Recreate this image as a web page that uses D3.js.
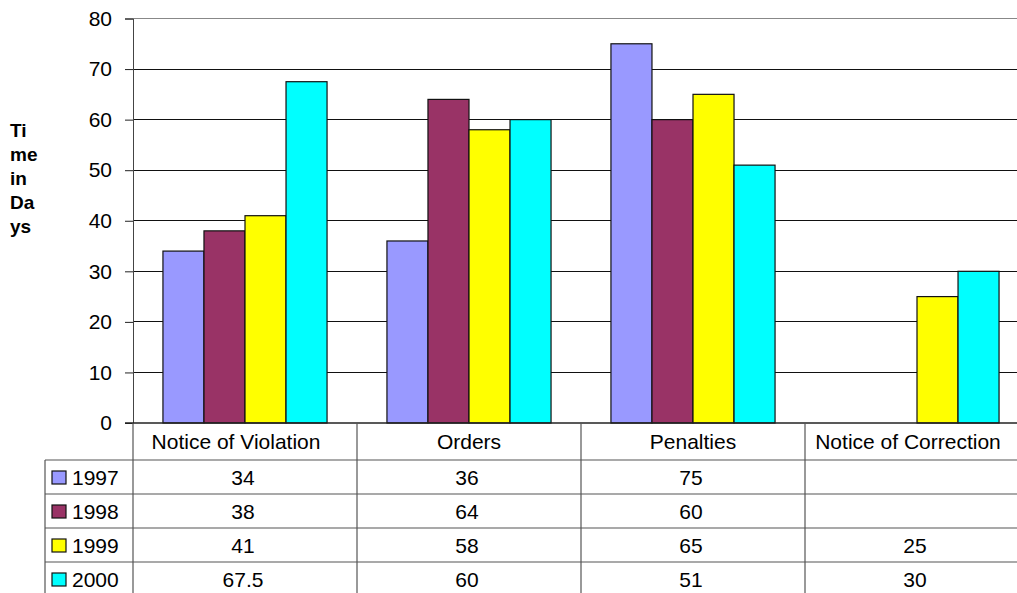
<!DOCTYPE html>
<html><head><meta charset="utf-8">
<script src="https://cdn.jsdelivr.net/npm/d3@7"></script>
<style>
html,body{margin:0;padding:0;background:#fff;}
svg{display:block;font-family:"Liberation Sans",Arial,sans-serif;}
</style></head>
<body>
<svg id="c" width="1017" height="593"></svg>
<script>
const categories = ["Notice of Violation","Orders","Penalties","Notice of Correction"];
const years = ["1997","1998","1999","2000"];
const v1997 = [34, 36, 75, null];
const v1998 = [38, 64, 60, null];
const v1999 = [41, 58, 65, 25];
const v2000 = [67.5, 60, 51, 30];
const colors = ["#9999FF","#993366","#FFFF00","#00FFFF"];
const yTicks = [0,10,20,30,40,50,60,70,80];
const yLabel = ["Ti","me","in","Da","ys"];

(function(){
const series = [v1997, v1998, v1999, v2000];
const svg = d3.select("#c");
const W = 1017;
const pLeft = 133, pRight = 1029, pTop = 18.5, pBottom = 423;
const FS = 21;
const x = d3.scaleBand().domain(categories).range([pLeft, pRight]).paddingInner(0).paddingOuter(0);
const xs = d3.scaleBand().domain(years).range([0, x.bandwidth()]).paddingInner(0).paddingOuter(0.73);
const y = d3.scaleLinear().domain([0,80]).range([pBottom, pTop]);
// centre of the visible part of a table column
const colCenter = c => (x(c) + Math.min(x(c) + x.bandwidth(), W + 12)) / 2;

// gridlines
svg.append("g").selectAll("line").data(yTicks.filter(d=>d>0)).join("line")
  .attr("x1", pLeft).attr("x2", pRight)
  .attr("y1", d=>y(d)).attr("y2", d=>y(d))
  .attr("stroke", d=> d===80 ? "#888" : "#111").attr("stroke-width",1)
  .attr("shape-rendering","crispEdges");

// y axis
const ya = d3.axisLeft(y).tickValues(yTicks).tickSize(8).tickPadding(13);
const yg = svg.append("g").attr("transform",`translate(${pLeft},0)`).call(ya);
yg.select(".domain").attr("stroke","#444");
yg.selectAll(".tick line").attr("stroke","#222");
yg.selectAll("text").attr("font-size",FS).attr("fill","#000")
  .attr("font-family","'Liberation Sans',Arial,sans-serif");

// bars
series.forEach((vals, si) => {
  svg.append("g").selectAll("rect").data(categories.map((c,i)=>({c, v: vals[i]})).filter(d=>d.v!=null))
    .join("rect")
    .attr("x", d=> x(d.c) + xs(years[si]))
    .attr("width", xs.bandwidth())
    .attr("y", d=> y(d.v))
    .attr("height", d=> y(0)-y(d.v))
    .attr("fill", colors[si]).attr("stroke","#111").attr("stroke-width",1.2);
});

// table
const rowTop = 460, rowH = 34, legLeft = 45;
const tg = svg.append("g");
const lineCol = "#555";
tg.append("line").attr("x1",125).attr("x2",pRight).attr("y1",pBottom).attr("y2",pBottom).attr("stroke","#222").attr("stroke-width",1.5);
for (let r=0;r<=4;r++){
  tg.append("line").attr("x1",legLeft).attr("x2",pRight)
    .attr("y1",rowTop + r*rowH).attr("y2",rowTop + r*rowH)
    .attr("stroke",lineCol).attr("stroke-width",1.2);
}
tg.append("line").attr("x1",legLeft).attr("x2",legLeft).attr("y1",rowTop).attr("y2",593).attr("stroke",lineCol).attr("stroke-width",1.2);
categories.forEach(c=>{
  tg.append("line").attr("x1",x(c)).attr("x2",x(c)).attr("y1",pBottom).attr("y2",593).attr("stroke",lineCol).attr("stroke-width",1.2);
});
tg.selectAll("text.h").data(categories).join("text").attr("class","h")
  .attr("x", d=> colCenter(d)).attr("y", (pBottom+rowTop)/2)
  .attr("text-anchor","middle").attr("dominant-baseline","central")
  .attr("font-size",FS).text(d=>d)
  .attr("dx", function(){ const w = this.getComputedTextLength(); return w > 150 ? -9 : 0; });
series.forEach((vals, si)=>{
  const cy = rowTop + si*rowH + rowH/2;
  tg.append("rect").attr("x",52).attr("y",cy-6).attr("width",14).attr("height",13)
    .attr("fill",colors[si]).attr("stroke","#111").attr("stroke-width",1.2);
  tg.append("text").attr("x",72).attr("y",cy).attr("dominant-baseline","central")
    .attr("font-size",FS).text(years[si]);
  categories.forEach((c,i)=>{
    if (vals[i]==null) return;
    tg.append("text").attr("x",colCenter(c)).attr("dx",-2).attr("y",cy)
      .attr("text-anchor","middle").attr("dominant-baseline","central")
      .attr("font-size",FS).text(vals[i]);
  });
});

svg.append("g").selectAll("text").data(yLabel).join("text")
  .attr("x",10).attr("y",(d,i)=>137 + i*24)
  .attr("font-size",19).attr("font-weight","bold").text(d=>d);
})();
</script>
</body></html>
